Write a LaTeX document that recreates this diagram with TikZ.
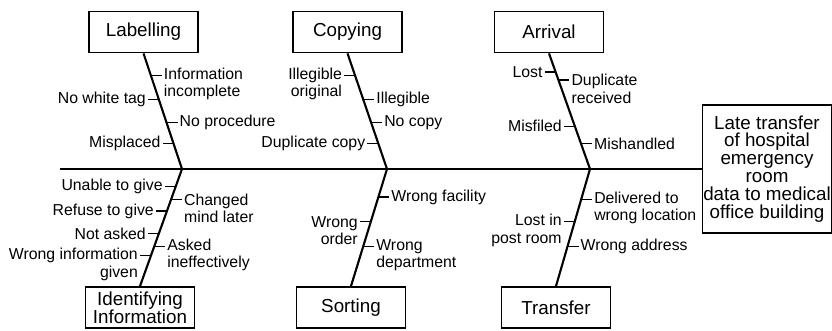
\documentclass[tikz,border=0pt]{standalone}
\usepackage{fontspec}
\setmainfont{Liberation Sans}
\usetikzlibrary{positioning}

\begin{document}
\begin{tikzpicture}[x=0.02cm, y=-0.02cm,
    causa/.style={rectangle, draw, line width=1pt, minimum width=2.18cm, minimum height=0.82cm, inner sep=1pt, align=center, font=\fontsize{10.7}{10.2}\selectfont},
    efecto/.style={rectangle, draw, line width=1pt, minimum width=2.56cm, minimum height=2.56cm, inner sep=0.5pt, align=center, font=\fontsize{10.7}{10.2}\selectfont},
    espina/.style={line width=1.5pt},
    hueso/.style={line width=1.2pt},
    marca/.style={line width=0.8pt},
    subL/.style={inner sep=1pt, align=right, font=\fontsize{9}{9.9}\selectfont},
    subR/.style={inner sep=1pt, align=left, font=\fontsize{9}{9.9}\selectfont},
    dos/.style={yshift=-4.95pt}]
    \useasboundingbox (0,0) rectangle (832,331);

    % Efecto y espina
    \node[efecto] (effect) at (767,169) {Late transfer\\of hospital\\emergency\\room\\data to medical\\office building};
    \coordinate (tail) at (60,169);
    \draw[espina] (tail) -- (effect.west);

    % Causas
    \node[causa] (label) at (143.5,32) {Labelling};
    \node[causa] (copy) at (347.5,32) {Copying};
    \node[causa] (arrival) at (549,32) {Arrival};
    \node[causa] (ident) at (140,307.5) {Identifying\\Information};
    \node[causa] (sort) at (351,307.5) {Sorting};
    \node[causa] (transfer) at (556,307.5) {Transfer};

    % Huesos
    \coordinate (jlab) at (182,169);
    \coordinate (jcopy) at (387,169);
    \coordinate (jarr) at (590,169);
    \draw[hueso] (label.south) -- (jlab) coordinate[pos=0.19] (la1) coordinate[pos=0.40] (la2)
        coordinate[pos=0.60] (la3) coordinate[pos=0.78] (la4);
    \draw[hueso] (copy.south) -- (jcopy) coordinate[pos=0.19] (co1) coordinate[pos=0.40] (co2)
        coordinate[pos=0.60] (co3) coordinate[pos=0.78] (co4);
    \draw[hueso] (arrival.south) -- (jarr) coordinate[pos=0.16] (ar1) coordinate[pos=0.23] (ar2)
        coordinate[pos=0.63] (ar3) coordinate[pos=0.78] (ar4);
    \draw[hueso] (jlab) -- (ident.north) coordinate[pos=0.15] (id1) coordinate[pos=0.26] (id2)
        coordinate[pos=0.36] (id3) coordinate[pos=0.55] (id4) coordinate[pos=0.66] (id5)
        coordinate[pos=0.74] (id6);
    \draw[hueso] (jcopy) -- (sort.north) coordinate[pos=0.24] (so1) coordinate[pos=0.45] (so2)
        coordinate[pos=0.66] (so3);
    \draw[hueso] (jarr) -- (transfer.north) coordinate[pos=0.26] (tr1) coordinate[pos=0.45] (tr2)
        coordinate[pos=0.66] (tr3);

    % Subcausas: Labelling
    \node[subR, dos, right=0.22cm of la1] (infinc) {Information\\incomplete};
    \node[subL, left=0.22cm of la2] (notag) {No white tag};
    \node[subR, right=0.22cm of la3] (noproc) {No procedure};
    \node[subL, left=0.22cm of la4] (mispl) {Misplaced};
    \draw[marca] (la1) -- (la1 -| infinc.west);
    \draw[marca] (la2) -- (la2 -| notag.east);
    \draw[marca] (la3) -- (la3 -| noproc.west);
    \draw[marca] (la4) -- (la4 -| mispl.east);

    % Subcausas: Copying
    \node[subL, dos, left=0.22cm of co1] (illorig) {Illegible\\original};
    \node[subR, right=0.22cm of co2] (illeg) {Illegible};
    \node[subR, right=0.22cm of co3] (nocopy) {No copy};
    \node[subL, left=0.22cm of co4] (dupcopy) {Duplicate copy};
    \draw[marca] (co1) -- (co1 -| illorig.east);
    \draw[marca] (co2) -- (co2 -| illeg.west);
    \draw[marca] (co3) -- (co3 -| nocopy.west);
    \draw[marca] (co4) -- (co4 -| dupcopy.east);

    % Subcausas: Arrival
    \node[subL, left=0.22cm of ar1] (lost) {Lost};
    \node[subR, dos, right=0.22cm of ar2] (duprec) {Duplicate\\received};
    \node[subL, left=0.22cm of ar3] (misfil) {Misfiled};
    \node[subR, right=0.22cm of ar4] (mishand) {Mishandled};
    \draw[marca] (ar1) -- (ar1 -| lost.east);
    \draw[marca] (ar2) -- (ar2 -| duprec.west);
    \draw[marca] (ar3) -- (ar3 -| misfil.east);
    \draw[marca] (ar4) -- (ar4 -| mishand.west);

    % Subcausas: Identifying Information
    \node[subL, left=0.22cm of id1] (unable) {Unable to give};
    \node[subR, dos, right=0.22cm of id2] (changed) {Changed\\mind later};
    \node[subL, left=0.22cm of id3] (refuse) {Refuse to give};
    \node[subL, left=0.22cm of id4] (notask) {Not asked};
    \node[subR, dos, right=0.22cm of id5] (askin) {Asked\\ineffectively};
    \node[subL, dos, left=0.22cm of id6] (wrinfo) {Wrong information\\given};
    \draw[marca] (id1) -- (id1 -| unable.east);
    \draw[marca] (id2) -- (id2 -| changed.west);
    \draw[marca] (id3) -- (id3 -| refuse.east);
    \draw[marca] (id4) -- (id4 -| notask.east);
    \draw[marca] (id5) -- (id5 -| askin.west);
    \draw[marca] (id6) -- (id6 -| wrinfo.east);

    % Subcausas: Sorting
    \node[subR, right=0.22cm of so1] (wrfac) {Wrong facility};
    \node[subL, dos, left=0.22cm of so2] (wrord) {Wrong\\order};
    \node[subR, dos, right=0.22cm of so3] (wrdep) {Wrong\\department};
    \draw[marca] (so1) -- (so1 -| wrfac.west);
    \draw[marca] (so2) -- (so2 -| wrord.east);
    \draw[marca] (so3) -- (so3 -| wrdep.west);

    % Subcausas: Transfer
    \node[subR, dos, right=0.22cm of tr1] (deliv) {Delivered to\\wrong location};
    \node[subL, dos, left=0.22cm of tr2] (lostpr) {Lost in\\post room};
    \node[subR, right=0.22cm of tr3] (wraddr) {Wrong address};
    \draw[marca] (tr1) -- (tr1 -| deliv.west);
    \draw[marca] (tr2) -- (tr2 -| lostpr.east);
    \draw[marca] (tr3) -- (tr3 -| wraddr.west);
\end{tikzpicture}
\end{document}
